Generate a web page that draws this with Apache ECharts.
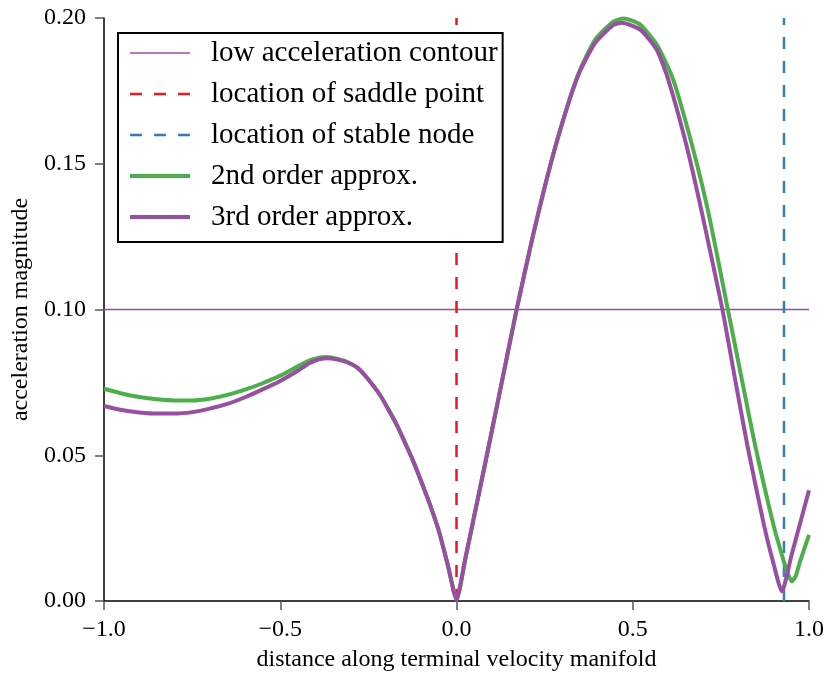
<!DOCTYPE html>
<html>
<head>
<meta charset="utf-8">
<script src="https://cdn.jsdelivr.net/npm/echarts@6/dist/echarts.min.js"></script>
<style>
html, body { margin: 0; padding: 0; background: #fff; }
#main { width: 827px; height: 677px; }
</style>
</head>
<body>
<div id="main"></div>
<script>
// values
var xs3 = [-1.0, -0.95, -0.9, -0.85, -0.8, -0.75, -0.7, -0.65, -0.6, -0.55, -0.5, -0.45, -0.415, -0.39, -0.367, -0.34, -0.31, -0.28, -0.25, -0.216, -0.19, -0.169, -0.145, -0.122, -0.1, -0.075, -0.05, -0.025, 0.0,
           0.025, 0.05, 0.081, 0.118, 0.171, 0.214, 0.256, 0.299, 0.346, 0.393, 0.445, 0.469, 0.521, 0.568, 0.601, 0.653, 0.696, 0.754, 0.79, 0.825, 0.872, 0.9, 0.923, 0.95, 1.0];
var ys3 = [0.0669, 0.0655, 0.0647, 0.0643, 0.0643, 0.0648, 0.066, 0.0676, 0.0699, 0.0726, 0.0755, 0.079, 0.0817, 0.0829, 0.0833, 0.0829, 0.0819, 0.0799, 0.076, 0.0705, 0.065, 0.0603, 0.054, 0.0478, 0.041, 0.033, 0.024, 0.0125, 0.0005,
           0.0145, 0.029, 0.047, 0.0688, 0.1002, 0.1238, 0.1448, 0.1635, 0.1805, 0.1914, 0.1976, 0.1984, 0.196, 0.1891, 0.1788, 0.156, 0.1333, 0.1002, 0.0763, 0.0535, 0.0262, 0.0125, 0.0033, 0.0155, 0.038];

var xs2 = [-1.0, -0.95, -0.9, -0.85, -0.8, -0.75, -0.7, -0.65, -0.6, -0.55, -0.5, -0.45, -0.415, -0.39, -0.367, -0.34, -0.31, -0.28, -0.25, -0.216, -0.19, -0.169, -0.145, -0.122, -0.1, -0.075, -0.05, -0.025, 0.0,
           0.025, 0.05, 0.081, 0.118, 0.171, 0.214, 0.256, 0.299, 0.346, 0.393, 0.445, 0.474, 0.52, 0.57, 0.615, 0.669, 0.7145, 0.7695, 0.809, 0.847, 0.899, 0.93, 0.94, 0.951, 0.962, 0.975, 1.0];
var ys2 = [0.0728, 0.0712, 0.07, 0.0692, 0.0688, 0.0688, 0.0694, 0.0707, 0.0725, 0.0747, 0.0773, 0.0805, 0.0826, 0.0835, 0.0837, 0.0831, 0.082, 0.08, 0.076, 0.0705, 0.065, 0.0603, 0.054, 0.0478, 0.041, 0.033, 0.024, 0.0125, 0.0005,
           0.0145, 0.029, 0.047, 0.0688, 0.1002, 0.1238, 0.1448, 0.1637, 0.181, 0.1925, 0.1988, 0.1998, 0.1978, 0.1905, 0.1788, 0.156, 0.1333, 0.1002, 0.0763, 0.0535, 0.0262, 0.013, 0.0095, 0.0067, 0.0085, 0.0137, 0.0227];

var contourLevel = 0.1;
var saddleX = 0.0;
var nodeX = 0.929;
var xRange = [-1.0, 1.0];
var yRange = [0.0, 0.2];
var legendNames = ['low acceleration contour', 'location of saddle point', 'location of stable node', '2nd order approx.', '3rd order approx.'];

function pairs(xs, ys) {
  return xs.map(function (x, i) { return [x, ys[i]]; });
}

var font = 'Liberation Serif';
var myChart = echarts.init(document.getElementById('main'));
myChart.setOption({
  animation: false,
  grid: { left: 104, right: 18, top: 18, bottom: 74 },
  legend: {
    data: [
      { name: legendNames[0], lineStyle: { width: 1.5 } },
      { name: legendNames[1], lineStyle: { width: 2.5 } },
      { name: legendNames[2], lineStyle: { width: 2.5 } },
      { name: legendNames[3], lineStyle: { width: 4 } },
      { name: legendNames[4], lineStyle: { width: 4 } }
    ],
    orient: 'vertical',
    left: 118,
    top: 33,
    padding: [5, 5, 10, 10],
    itemWidth: 60,
    itemHeight: 14,
    itemGap: 11,
    itemStyle: { opacity: 0 },
    borderColor: '#000',
    borderWidth: 2,
    backgroundColor: '#fff',
    textStyle: { fontFamily: font, fontSize: 29, color: '#000', lineHeight: 30, padding: [0, 0, 0, 16] }
  },
  xAxis: {
    type: 'value',
    min: xRange[0], max: xRange[1], interval: 0.5,
    name: 'distance along terminal velocity manifold',
    nameLocation: 'middle',
    nameGap: 47,
    nameTextStyle: { fontFamily: font, fontSize: 24, color: '#000' },
    splitLine: { show: false },
    axisLine: { onZero: false, lineStyle: { color: '#000', width: 1.5 } },
    axisTick: { length: 9, lineStyle: { color: '#555', width: 1.5 } },
    axisLabel: {
      margin: 17, fontFamily: font, fontSize: 24, color: '#000',
      formatter: function (v) { return v.toFixed(1).replace('-', '\u2212'); }
    }
  },
  yAxis: {
    type: 'value',
    min: yRange[0], max: yRange[1], interval: 0.05,
    name: 'acceleration magnitude',
    nameLocation: 'middle',
    nameGap: 68,
    nameTextStyle: { fontFamily: font, fontSize: 24, color: '#000' },
    splitLine: { show: false },
    axisLine: { show: true, onZero: false, lineStyle: { color: '#000', width: 1.5 } },
    axisTick: { show: true, length: 9, lineStyle: { color: '#555', width: 1.5 } },
    axisLabel: {
      margin: 18, fontFamily: font, fontSize: 24, color: '#000',
      formatter: function (v) { return v.toFixed(2); }
    }
  },
  series: [
    {
      name: legendNames[0], type: 'line', symbol: 'none',
      data: [[xRange[0], contourLevel], [xRange[1], contourLevel]],
      lineStyle: { color: '#984ea3', width: 1.5 }, itemStyle: { color: '#984ea3' }
    },
    {
      name: legendNames[1], type: 'line', symbol: 'none',
      data: [[saddleX, yRange[0]], [saddleX, yRange[1]]],
      lineStyle: { color: '#e41a1c', width: 2.5, type: [12, 12] }, itemStyle: { color: '#e41a1c' }
    },
    {
      name: legendNames[2], type: 'line', symbol: 'none',
      data: [[nodeX, yRange[0]], [nodeX, yRange[1]]],
      lineStyle: { color: '#377eb8', width: 2.5, type: [12, 12] }, itemStyle: { color: '#377eb8' }
    },
    {
      name: legendNames[3], type: 'line', symbol: 'none', smooth: 0.2,
      data: pairs(xs2, ys2),
      lineStyle: { color: '#4daf4a', width: 4 }, itemStyle: { color: '#4daf4a' }
    },
    {
      name: legendNames[4], type: 'line', symbol: 'none', smooth: 0.2,
      data: pairs(xs3, ys3),
      lineStyle: { color: '#984ea3', width: 4 }, itemStyle: { color: '#984ea3' }
    }
  ]
});
</script>
</body>
</html>
